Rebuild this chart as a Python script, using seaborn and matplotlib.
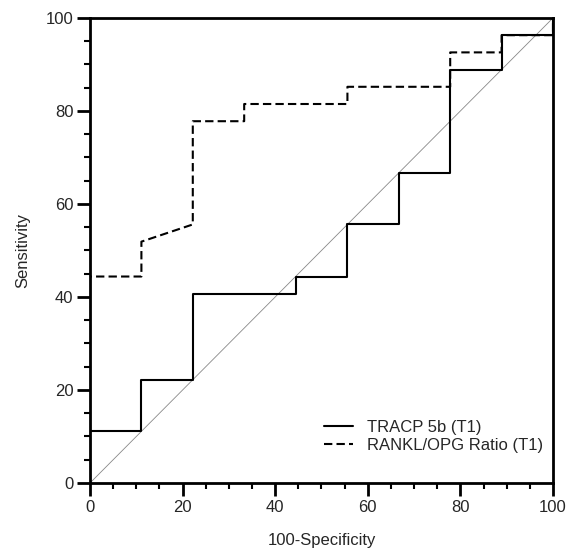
import numpy as np
import pandas as pd
import matplotlib
matplotlib.use("Agg")
import matplotlib.pyplot as plt
import seaborn as sns
from matplotlib.ticker import MultipleLocator

# --- data (ROC step curves) ---
tracp_fpr = [0, 0, 11.1, 11.1, 22.2, 22.2, 44.4, 44.4, 55.6, 55.6, 66.7, 66.7, 77.8, 77.8, 88.9, 88.9, 100, 100]
tracp_tpr = [0, 11.1, 11.1, 22.2, 22.2, 40.7, 40.7, 44.4, 44.4, 55.6, 55.6, 66.7, 66.7, 88.9, 88.9, 96.3, 96.3, 100]

rankl_fpr = [0, 0, 11.1, 11.1, 22.2, 22.2, 33.3, 33.3, 55.6, 55.6, 77.8, 77.8, 88.9, 88.9, 100, 100]
rankl_tpr = [0, 44.4, 44.4, 51.9, 55.6, 77.8, 77.8, 81.5, 81.5, 85.2, 85.2, 92.6, 92.6, 96.3, 96.3, 100]

series_names = ["TRACP 5b (T1)", "RANKL/OPG Ratio (T1)"]

df = pd.concat([
    pd.DataFrame({"fpr": tracp_fpr, "tpr": tracp_tpr, "marker": series_names[0]}),
    pd.DataFrame({"fpr": rankl_fpr, "tpr": rankl_tpr, "marker": series_names[1]}),
], ignore_index=True)

sns.set_style("white")
plt.rcParams['font.family'] = ['Liberation Sans', 'DejaVu Sans']

fig = plt.figure(figsize=(5.83, 5.53), dpi=100)
ax = fig.add_axes([0.1544, 0.1266, 0.7941, 0.8409])

# chance diagonal
ax.plot([0, 100], [0, 100], color="#888888", lw=0.6, zorder=1)

sns.lineplot(data=df, x="fpr", y="tpr", style="marker", sort=False, estimator=None,
             color="black", linewidth=1.5,
             dashes={series_names[0]: "", series_names[1]: (4, 2)}, ax=ax, zorder=2)

ax.set_xlim(0, 100)
ax.set_ylim(0, 100)
ax.xaxis.set_major_locator(MultipleLocator(20))
ax.xaxis.set_minor_locator(MultipleLocator(5))
ax.yaxis.set_major_locator(MultipleLocator(20))
ax.yaxis.set_minor_locator(MultipleLocator(5))
ax.tick_params(which="major", direction="out", length=9.5, width=2, pad=2.5,
               labelsize=12, color="black", bottom=True, left=True)
ax.tick_params(which="minor", direction="out", length=4.5, width=1.5, color="black",
               bottom=True, left=True)
for sp in ax.spines.values():
    sp.set_linewidth(2)
    sp.set_color("black")

ax.set_xlabel("100-Specificity", fontsize=12, labelpad=13)
ax.set_ylabel("Sensitivity", fontsize=12, labelpad=11)

ax.legend(title=None, loc="lower right", frameon=False, fontsize=12,
          handlelength=1.75, handletextpad=0.8, labelspacing=0.15,
          borderpad=0, borderaxespad=0, bbox_to_anchor=(0.978, 0.065))

fig.savefig("out.png", dpi=100)
